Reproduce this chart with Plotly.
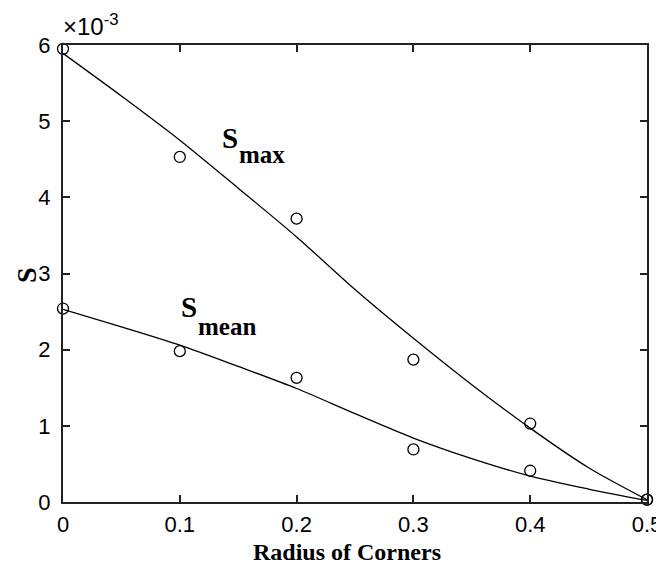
import plotly.graph_objects as go

# data (units of 1e-3)
radius = [0.0, 0.1, 0.2, 0.3, 0.4, 0.5]
s_max = [5.95, 4.53, 3.72, 1.87, 1.03, 0.03]
s_mean = [2.54, 1.98, 1.63, 0.69, 0.41, 0.03]

# fitted curves
fit_x = [0.0, 0.05, 0.1, 0.15, 0.2, 0.25, 0.3, 0.35, 0.4, 0.45, 0.5]
fit_max = [5.89, 5.33, 4.75, 4.12, 3.48, 2.79, 2.15, 1.54, 0.97, 0.45, 0.03]
fit_mean = [2.53, 2.30, 2.06, 1.78, 1.49, 1.16, 0.84, 0.57, 0.34, 0.17, 0.02]

x_ticks = [0, 0.1, 0.2, 0.3, 0.4, 0.5]
x_tick_labels = ["0", "0.1", "0.2", "0.3", "0.4", "0.5"]
y_ticks = [0, 1, 2, 3, 4, 5, 6]
y_tick_labels = ["0", "1", "2", "3", "4", "5", "6"]

SERIF = "Times New Roman, Liberation Serif, serif"
SANS = "Arial, Liberation Sans, Helvetica, sans-serif"

fig = go.Figure()
for fy in (fit_max, fit_mean):
    fig.add_trace(go.Scatter(x=fit_x, y=fy, mode="lines",
                             line=dict(color="black", width=1.3, shape="spline", smoothing=0.8),
                             showlegend=False, hoverinfo="skip"))
for sy in (s_max, s_mean):
    fig.add_trace(go.Scatter(x=radius, y=sy, mode="markers", showlegend=False,
                             marker=dict(symbol="circle-open", size=11,
                                         color="black", line=dict(width=1.3)),
                             cliponaxis=False))

axis_common = dict(showline=True, linecolor="#222", linewidth=2, mirror="ticks",
                   ticks="inside", ticklen=7, tickwidth=1.5, tickcolor="#222",
                   showgrid=False, zeroline=False, automargin=False,
                   tickfont=dict(family=SANS, size=22, color="black"))

fig.update_xaxes(range=[0, 0.5], tickvals=x_ticks, ticktext=x_tick_labels,
                 ticklabelstandoff=2, **axis_common)
fig.update_yaxes(range=[0, 6], tickvals=y_ticks, ticktext=y_tick_labels,
                 ticklabelstandoff=6, **axis_common)

# axis titles
fig.add_annotation(x=0.487, y=0, xref="paper", yref="paper", yshift=-50,
                   text="<b>Radius of Corners</b>", showarrow=False,
                   xanchor="center", yanchor="middle",
                   font=dict(family=SERIF, size=24, color="black"))
fig.add_annotation(x=0, y=0.4967, xref="paper", yref="paper", xshift=-37,
                   text="<b>S</b>", showarrow=False, textangle=-90,
                   xanchor="center", yanchor="middle",
                   font=dict(family=SERIF, size=28, color="black"))

# curve labels
big = dict(family=SERIF, size=29, color="black")
sub = dict(family=SERIF, size=25, color="black")
fig.add_annotation(x=0.1434, y=4.78, text="<b>S</b>", showarrow=False, font=big,
                   xanchor="center", yanchor="middle")
fig.add_annotation(x=0.1708, y=4.567, text="<b>max</b>", showarrow=False, font=sub,
                   xanchor="center", yanchor="middle")
fig.add_annotation(x=0.108, y=2.563, text="<b>S</b>", showarrow=False, font=big,
                   xanchor="center", yanchor="middle")
fig.add_annotation(x=0.1407, y=2.31, text="<b>mean</b>", showarrow=False, font=sub,
                   xanchor="center", yanchor="middle")

# exponent
fig.add_annotation(x=0, y=1, xref="paper", yref="paper", text="×10<sup>-3</sup>",
                   showarrow=False, xanchor="left", yanchor="bottom", yshift=3, xshift=-2,
                   font=dict(family=SANS, size=24, color="black"))

# the page body adds an 8 px margin, so the figure is sized/offset to compensate
fig.update_layout(width=656, height=562, paper_bgcolor="white", plot_bgcolor="white",
                  margin=dict(l=55, r=17, t=37, b=68))

fig.write_html("out.html")
